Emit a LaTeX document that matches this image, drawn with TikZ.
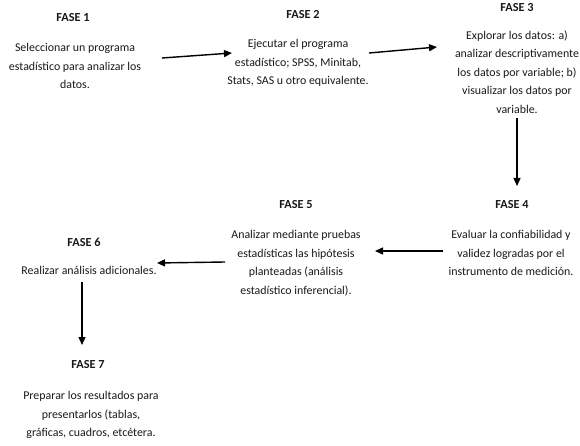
\documentclass[tikz,border=0pt]{standalone}
\usepackage{fontspec}
\setmainfont{Carlito}
\usetikzlibrary{arrows.meta}
\begin{document}
\begin{tikzpicture}[x=1pt,y=-1pt,
  title/.style={font=\fontsize{12.3}{14}\selectfont\bfseries, inner sep=0pt, text=black!90},
  desc/.style={font=\fontsize{11.9}{18.5}\selectfont, align=center, inner sep=0pt, text=black!90},
  conn/.style={line width=1.4pt, -{Triangle[length=8pt,width=7pt]}}]
\useasboundingbox[fill=white] (0,0) rectangle (580,446);
\node[title] (t1) at (73,18) {FASE 1};
\node[desc] (d1) at (75,66) {Seleccionar un programa\\estadístico para analizar los\\datos.};
\node[title] (t2) at (303,15) {FASE 2};
\node[desc] (d2) at (298,63) {Ejecutar el programa\\estadístico; SPSS, Minitab,\\Stats, SAS u otro equivalente.};
\node[title] (t3) at (517,8) {FASE 3};
\node[desc] (d3) at (517,72) {Explorar los datos: a)\\analizar descriptivamente\\los datos por variable; b)\\visualizar los datos por\\variable.};
\node[title] (t4) at (512,205) {FASE 4};
\node[desc] (d4) at (511,253) {Evaluar la confiabilidad y\\validez logradas por el\\instrumento de medición.};
\node[title] (t5) at (296,205) {FASE 5};
\node[desc] (d5) at (296,263) {Analizar mediante pruebas\\estadísticas las hipótesis\\planteadas (análisis\\estadístico inferencial).};
\node[title] (t6) at (84,242) {FASE 6};
\node[desc] (d6) at (89,270) {Realizar análisis adicionales.};
\node[title] (t7) at (88,365) {FASE 7};
\node[desc] (d7) at (91,415) {Preparar los resultados para\\presentarlos (tablas,\\gráficas, cuadros, etcétera.};
\coordinate (a1s) at (162,58); \coordinate (a1e) at (232,53);
\coordinate (a2s) at (369,53); \coordinate (a2e) at (437,47);
\coordinate (a3s) at (517,118); \coordinate (a3e) at (517,186);
\coordinate (a4s) at (443,251); \coordinate (a4e) at (375,251);
\coordinate (a5s) at (225,262); \coordinate (a5e) at (157,263);
\coordinate (a6s) at (82,282); \coordinate (a6e) at (82,345);
\draw[conn] (a1s) -- (a1e);
\draw[conn] (a2s) -- (a2e);
\draw[conn] (a3s) -- (a3e);
\draw[conn] (a4s) -- (a4e);
\draw[conn] (a5s) -- (a5e);
\draw[conn] (a6s) -- (a6e);
\end{tikzpicture}
\end{document}
